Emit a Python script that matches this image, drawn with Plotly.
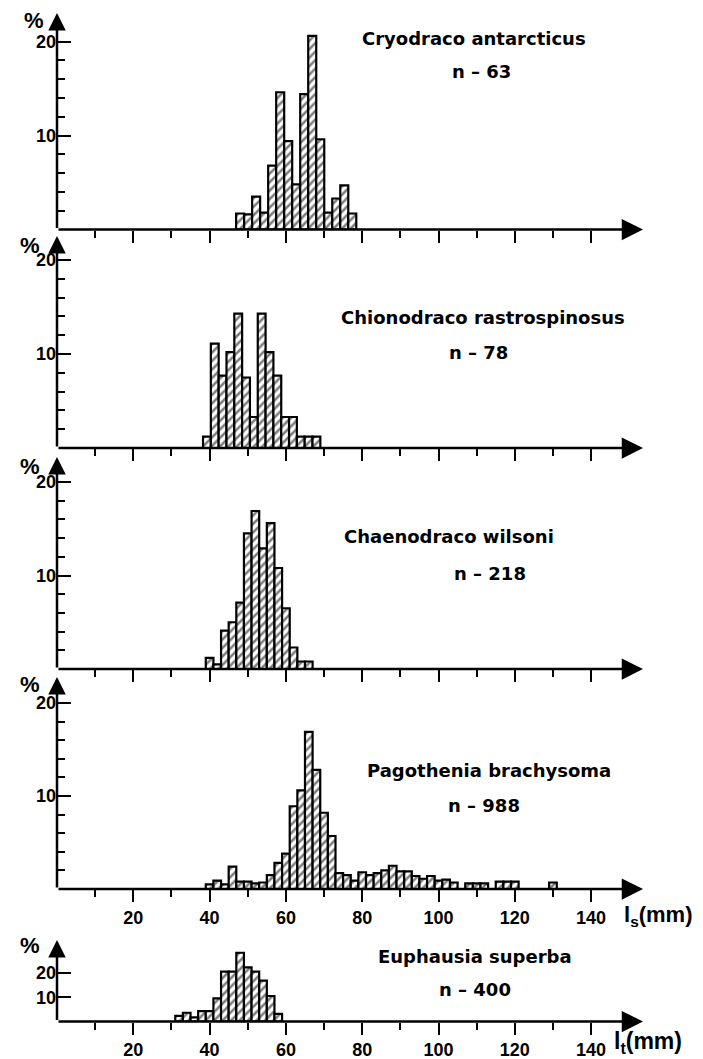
import plotly.graph_objects as go

W, H = 703, 1059

# ---------------- data (length classes in mm, frequency in %) ----------------
cryo_len = [48.0, 50.1, 52.2, 54.3, 56.4, 58.5, 60.6, 62.7, 64.8, 66.9, 69.0, 71.1, 73.2, 75.3, 77.4]
cryo_pct = [1.7, 1.6, 3.5, 1.8, 6.8, 14.6, 9.4, 4.8, 14.4, 20.6, 9.6, 1.8, 3.3, 4.7, 1.7]

chio_len = [39.3, 41.35, 43.4, 45.45, 47.5, 49.55, 51.6, 53.65, 55.7, 57.75, 59.8, 61.85, 63.9, 65.95, 68.0]
chio_pct = [1.2, 11.1, 7.7, 10.2, 14.3, 7.5, 3.3, 14.3, 10.2, 7.7, 3.3, 3.3, 1.2, 1.2, 1.2]

chae_len = [40, 42, 44, 46, 48, 50, 52, 54, 56, 58, 60, 62, 64, 66]
chae_pct = [1.2, 0.5, 4.1, 5.0, 7.1, 14.5, 16.9, 12.9, 15.6, 10.8, 6.5, 2.3, 0.8, 0.8]

pago_len = [40, 42, 44, 46, 48, 50, 52, 54, 56, 58, 60, 62, 64, 66, 68, 70, 72, 74, 76, 78,
            80, 82, 84, 86, 88, 90, 92, 94, 96, 98, 100, 102, 104, 108, 110, 112, 116, 118, 120, 130]
pago_pct = [0.5, 0.9, 0.5, 2.4, 0.8, 0.8, 0.6, 0.7, 1.5, 2.8, 3.8, 8.9, 10.6, 16.9, 12.8, 8.2, 5.7, 1.7, 1.5, 0.9,
            1.8, 1.5, 1.7, 2.0, 2.5, 1.9, 1.9, 1.4, 1.1, 1.4, 0.9, 1.0, 0.7, 0.6, 0.6, 0.6, 0.8, 0.8, 0.8, 0.7]

euph_len = [32, 34, 36, 38, 40, 42, 44, 46, 48, 50, 52, 54, 56, 58]
euph_pct = [2.3, 3.6, 1.7, 4.3, 4.3, 9.5, 20.5, 20.5, 28.3, 22.3, 20.5, 16.8, 10.5, 3.1]

species = ["Cryodraco antarcticus", "Chionodraco rastrospinosus", "Chaenodraco wilsoni",
           "Pagothenia brachysoma", "Euphausia superba"]
sample_n = ["n – 63", "n – 78", "n – 218", "n – 988", "n – 400"]

x_major = [20, 40, 60, 80, 100, 120, 140]
x_minor = [10, 30, 50, 70, 90, 110, 130]
y_major = [10, 20]
y_minor = [2, 4, 6, 8, 12, 14, 16, 18]

panels = [
    dict(x=cryo_len, y=cryo_pct, w=2.1),
    dict(x=chio_len, y=chio_pct, w=2.05),
    dict(x=chae_len, y=chae_pct, w=2.0),
    dict(x=pago_len, y=pago_pct, w=2.0),
    dict(x=euph_len, y=euph_pct, w=2.0),
]

# ---------------- layout geometry (pixels) ----------------
X0, X1 = 57, 643          # y axis position, x arrow tip
XMAX = 153.6
# baseline y, arrow tip y, px per %
geom = [(229.5, 13, 9.4), (448, 236, 9.4), (669, 457, 9.35), (889, 677, 9.3), (1021.5, 940, 2.43)]
text_pos = [((474, 38), (481, 72)), ((483, 317), (478, 353)), ((449, 536), (490, 573)),
            ((489, 770), (484, 805)), ((475, 956), (475, 989))]
pct_pos = [(34, 20), (30, 245), (30, 466), (30, 685), (30, 945)]

FONT = "Liberation Sans"
LBL = "DejaVu Sans"
fig = go.Figure()
annotations = []
layout = dict(width=W, height=H, margin=dict(l=0, r=0, t=0, b=0),
              paper_bgcolor="white", plot_bgcolor="white", showlegend=False,
              barmode="overlay", font=dict(family=FONT, color="black", size=18))

for i, (p, g) in enumerate(zip(panels, geom)):
    k = "" if i == 0 else str(i + 1)
    yb, yt, ppp = g
    ytop = (yb - yt) / ppp
    fig.add_trace(go.Bar(
        x=p["x"], y=p["y"], width=p["w"], xaxis="x" + k, yaxis="y" + k,
        marker=dict(color="white", line=dict(color="black", width=2.2),
                    pattern=dict(shape="/", fgcolor="black", bgcolor="white", size=6, solidity=0.42)),
        hoverinfo="skip"))
    show_lab = i >= 3
    layout["xaxis" + k] = dict(
        domain=[X0 / W, X1 / W], range=[0, XMAX], anchor="y" + k, automargin=False,
        showgrid=False, zeroline=False, showline=False,
        ticks="outside", ticklen=12, tickwidth=2, tickcolor="black",
        tickvals=x_major, ticktext=[str(v) for v in x_major], showticklabels=show_lab,
        tickfont=dict(family=FONT, size=18, color="black", weight="bold"),
        minor=dict(tickvals=x_minor, ticks="outside", ticklen=7, tickwidth=2, tickcolor="black"))
    layout["yaxis" + k] = dict(
        domain=[1 - yb / H, 1 - yt / H], range=[0, ytop], anchor="x" + k, automargin=False,
        showgrid=False, zeroline=False, showline=False,
        ticks="inside", ticklen=14, tickwidth=2, tickcolor="black",
        tickvals=y_major, ticktext=[str(v) for v in y_major],
        tickfont=dict(family=FONT, size=18, color="black", weight="bold"),
        minor=dict(tickvals=y_minor if i < 4 else [], ticks="inside", ticklen=8, tickwidth=2, tickcolor="black"))
    # axis arrows
    annotations.append(dict(x=XMAX, y=0, ax=0, ay=0, xref="x" + k, yref="y" + k,
                            axref="x" + k, ayref="y" + k, text="", showarrow=True,
                            arrowhead=2, arrowsize=1.7, arrowwidth=2.5, arrowcolor="black", standoff=0))
    annotations.append(dict(x=0, y=ytop, ax=0, ay=0, xref="x" + k, yref="y" + k,
                            axref="x" + k, ayref="y" + k, text="", showarrow=True,
                            arrowhead=2, arrowsize=1.4, arrowwidth=2.5, arrowcolor="black", standoff=0))
    (sx, sy), (nx, ny) = text_pos[i]
    annotations.append(dict(x=sx / W, y=1 - sy / H, xref="paper", yref="paper", text=species[i],
                            showarrow=False, xanchor="center", yanchor="middle",
                            font=dict(family=LBL, size=18, color="black", weight="bold")))
    annotations.append(dict(x=nx / W, y=1 - ny / H, xref="paper", yref="paper", text=sample_n[i],
                            showarrow=False, xanchor="center", yanchor="middle",
                            font=dict(family=LBL, size=18, color="black", weight="bold")))
    px_, py_ = pct_pos[i]
    annotations.append(dict(x=px_ / W, y=1 - py_ / H, xref="paper", yref="paper", text="%",
                            showarrow=False, xanchor="center", yanchor="middle",
                            font=dict(family=FONT, size=22, color="black", weight="bold")))

annotations.append(dict(x=622 / W, y=1 - 916 / H, xref="paper", yref="paper",
                        text="l<sub>s</sub>(mm)", showarrow=False, xanchor="left", yanchor="middle",
                        font=dict(family=FONT, size=22, color="black", weight="bold")))
annotations.append(dict(x=612 / W, y=1 - 1042 / H, xref="paper", yref="paper",
                        text="l<sub>t</sub>(mm)", showarrow=False, xanchor="left", yanchor="middle",
                        font=dict(family=FONT, size=23, color="black", weight="bold")))

layout["annotations"] = annotations
fig.update_layout(**layout)
fig.write_html("out.html", config={"displayModeBar": False},
               post_script="document.body.style.margin='0';document.body.style.overflow='hidden';")
